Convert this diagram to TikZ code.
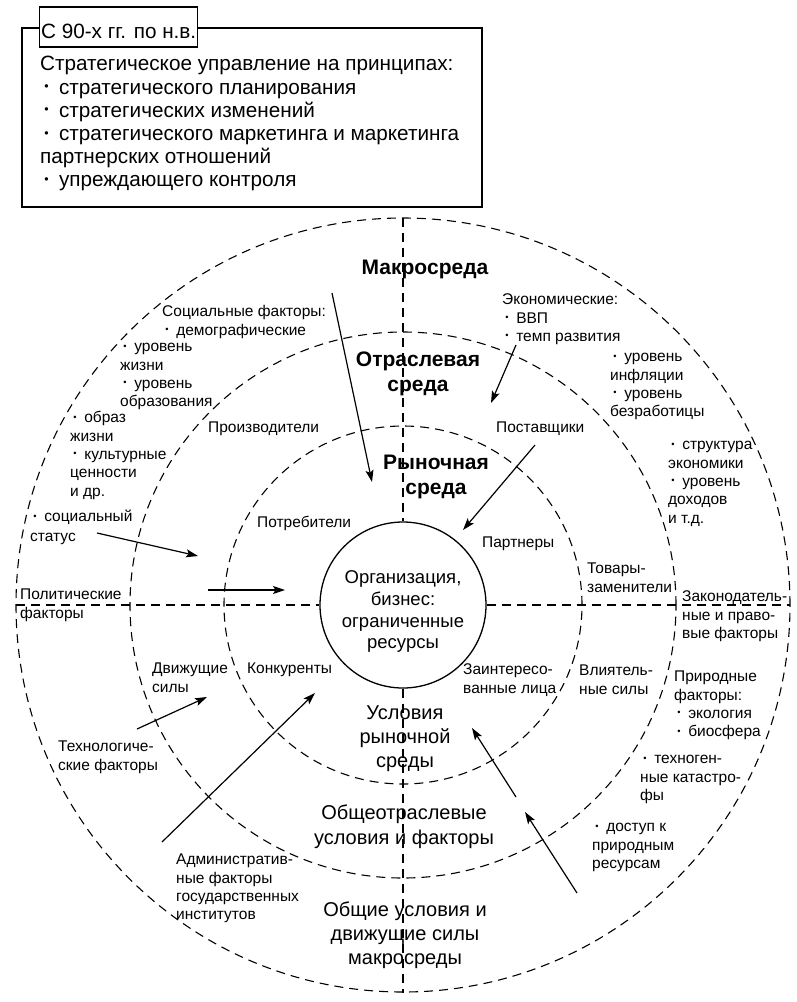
\documentclass[tikz,border=0pt]{standalone}
\usepackage{fontspec}
\setmainfont{Liberation Sans}
\usetikzlibrary{arrows.meta}
\newcommand\bul{\hspace*{0.2em}\raisebox{0.17em}{\scalebox{0.6}{•}}\hspace*{0.5em}}
\begin{document}
\begin{tikzpicture}[x=1pt,y=-1pt,
  dsh/.style={line width=1.1pt, dash pattern=on 9pt off 6pt},
  arr/.style={line width=1.2pt, -{Stealth[length=12pt,width=8pt,inset=2.5pt]}},
  sm/.style={font=\fontsize{15.5}{18.3}\selectfont, inner sep=0pt, align=left, anchor=north west, yshift=8.2pt},
  bd/.style={font=\bfseries\fontsize{21}{25}\selectfont, inner sep=0pt, align=center, anchor=north, yshift=11.2pt},
  mid/.style={font=\fontsize{20}{24}\selectfont, inner sep=0pt, align=center, anchor=north, yshift=10.8pt},
  boxtxt/.style={font=\fontsize{20.7}{23.2}\selectfont, inner sep=0pt, align=left, anchor=north west}
]
\fill[white] (0,0) rectangle (796,1002);
\useasboundingbox (0,0) rectangle (796,1002);

% ---------- top box ----------
\node[draw, line width=1.2pt, minimum width=460pt, minimum height=179pt, inner sep=0pt] (frame) at (252,117.5) {};
\node[draw, fill=white, line width=1.2pt, font=\fontsize{20.7}{24}\selectfont, inner xsep=1.5pt, inner ysep=0pt,
      text height=31pt, text depth=9pt, anchor=base west] (period) at (39,38) {С 90-х гг. по н.в.};
\node[boxtxt] (principles) at (40,54.5) {\strut Стратегическое управление на принципах:\\
  \bul стратегического планирования\\
  \bul стратегических изменений\\
  \bul стратегического маркетинга и маркетинга\\
  партнерских отношений\\
  \bul упреждающего контроля};

% ---------- circles and axes ----------
\coordinate (c) at (403,605);
\draw[dsh] (c) circle[radius=387pt];
\draw[dsh] (c) circle[radius=273pt];
\draw[dsh] (c) circle[radius=179pt];
\node[draw, circle, line width=1.3pt, minimum size=166pt, inner sep=0pt] (org) at (c) {};
\coordinate (vtop) at (403,218);
\coordinate (vbot) at (403,993);
\coordinate (hleft) at (16,605);
\coordinate (hright) at (790,605);
\draw[dsh] (vtop) -- (org.north);
\draw[dsh] (org.south) -- (vbot);
\draw[dsh] (hleft) -- (org.west);
\draw[dsh] (org.east) -- (hright);

% ---------- central texts ----------
\node[font=\fontsize{18.5}{21.7}\selectfont, inner sep=0pt, align=center, anchor=north, yshift=9.6pt] (orgtxt) at (403,578)
  {\strut Организация,\\бизнес:\\ограниченные\\ресурсы};
\node[bd] (makro) at (425,268) {\strut Макросреда};
\node[bd] (otrasl) at (418,360) {\strut Отраслевая\\среда};
\node[bd] (rynok) at (436,463) {\strut Рыночная\\среда};
\node[mid] (usl) at (405,713) {\strut Условия\\рыночной\\среды};
\node[mid, font=\fontsize{20}{25}\selectfont, yshift=0.7pt] (obsh) at (404,813) {\strut Общеотраслевые\\условия и факторы};
\node[mid] (obshie) at (405,910) {\strut Общие условия и\\движущие силы\\макросреды};

% ---------- small labels ----------
\node[sm] (soc1) at (162,312) {\strut Социальные факторы:\\\bul демографические};
\node[sm] (soc2) at (120,347) {\strut\bul уровень\\жизни\\\bul уровень\\образования};
\node[sm] (soc3) at (70,418) {\strut\bul образ\\жизни\\\bul культурные\\ценности\\и др.};
\node[sm, font=\fontsize{15.5}{20}\selectfont, yshift=1.15pt] (soc4) at (30,517) {\strut\bul социальный\\статус};
\node[sm] (prod) at (208,428) {\strut Производители};
\node[sm] (potr) at (257,523) {\strut Потребители};
\node[sm] (econ1) at (502,300) {\strut Экономические:\\\bul ВВП\\\bul темп развития};
\node[sm] (econ2) at (610,357) {\strut\bul уровень\\инфляции\\\bul уровень\\безработицы};
\node[sm] (post) at (496,428) {\strut Поставщики};
\node[sm] (econ3) at (668,445) {\strut\bul структура\\экономики\\\bul уровень\\доходов\\и т.д.};
\node[sm] (partn) at (482,543) {\strut Партнеры};
\node[sm] (tovar) at (587,569) {\strut Товары-\\заменители};
\node[sm] (zakon) at (682,597) {\strut Законодатель-\\ные и право-\\вые факторы};
\node[sm] (polit) at (20,595) {\strut Политические\\факторы};
\node[sm] (dvizh) at (152,669) {\strut Движущие\\силы};
\node[sm] (konk) at (247,669) {\strut Конкуренты};
\node[sm] (zaint) at (463,670) {\strut Заинтересо-\\ванные лица};
\node[sm] (vliyat) at (579,671) {\strut Влиятель-\\ные силы};
\node[sm] (prirod) at (674,677) {\strut Природные\\факторы:\\\bul экология\\\bul биосфера};
\node[sm] (tehnog) at (640,759) {\strut\bul техноген-\\ные катастро-\\фы};
\node[sm] (dostup) at (592,827) {\strut\bul доступ к\\природным\\ресурсам};
\node[sm] (technol) at (58,747) {\strut Технологиче-\\ские факторы};
\node[sm] (admin) at (176,860) {\strut Административ-\\ные факторы\\государственных\\институтов};

% ---------- arrows ----------
\coordinate (a1s) at (332,293); \coordinate (a1e) at (372,482);
\coordinate (a2s) at (516,345); \coordinate (a2e) at (491,403);
\coordinate (a3s) at (535,445); \coordinate (a3e) at (463,530);
\coordinate (a4s) at (97,533);  \coordinate (a4e) at (198,556);
\coordinate (a5s) at (208,590); \coordinate (a5e) at (285,590);
\coordinate (a6s) at (137,729); \coordinate (a6e) at (207,697);
\coordinate (a7s) at (162,842); \coordinate (a7e) at (315,693);
\coordinate (a8s) at (516,797); \coordinate (a8e) at (472,728);
\coordinate (a9s) at (577,893); \coordinate (a9e) at (525,812);
\foreach \i in {1,...,9} { \draw[arr] (a\i s) -- (a\i e); }
\end{tikzpicture}
\end{document}
